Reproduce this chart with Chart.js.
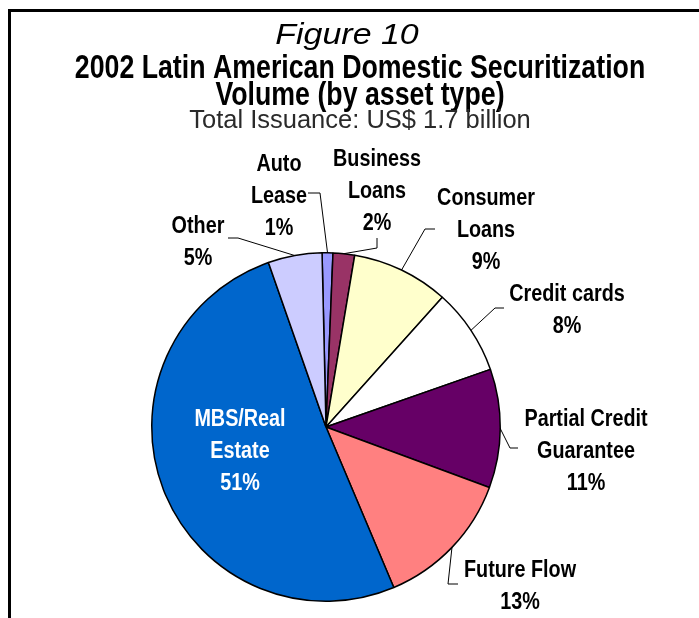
<!DOCTYPE html>
<html>
<head>
<meta charset="utf-8">
<title>2002 Latin American Domestic Securitization Volume</title>
<script src="https://cdn.jsdelivr.net/npm/chart.js@4.4.1/dist/chart.umd.min.js"></script>
<style>
  html, body { margin: 0; padding: 0; background: #fff; }
  #wrap { position: relative; width: 699px; height: 618px; overflow: hidden; }
  #frame {
    position: absolute; left: 8px; top: 9px; width: 720px; height: 640px;
    border-top: 3px solid #000; border-left: 3px solid #000;
  }
  #chart { position: absolute; left: 0; top: 0; }
</style>
</head>
<body>
<div id="wrap">
  <div id="frame"></div>
  <canvas id="chart" width="699" height="618"></canvas>
</div>
<script>
/* =========================================================
   Figure 10 — securitization volume by asset type (pie)
   ========================================================= */

const assetTypes = ['Auto Lease', 'Business Loans', 'Consumer Loans', 'Credit cards',
                    'Partial Credit Guarantee', 'Future Flow', 'MBS/Real Estate', 'Other'];
const sharePct   = [1, 2, 9, 8, 11, 13, 51, 5];
const labelLines = [['Auto', 'Lease'], ['Business', 'Loans'], ['Consumer', 'Loans'], ['Credit cards'],
                    ['Partial Credit', 'Guarantee'], ['Future Flow'], ['MBS/Real', 'Estate'], ['Other']];
const sliceColors = ['#9999ff', '#993366', '#ffffcc', '#ffffff', '#660066', '#ff8080', '#0066cc', '#ccccff'];

const headings = {
  figure: 'Figure 10',
  title: ['2002 Latin American Domestic Securitization', 'Volume (by asset type)'],
  subtitle: 'Total Issuance: US$ 1.7 billion'
};

// where each label sits (centre of first line) and its leader line (tail -> knee -> arc)
const labelLayout = [
  { x: 279, y: 163, tail: [308, 193], knee: [320, 193] },
  { x: 377, y: 158, tail: [377, 238], knee: [377, 248] },
  { x: 486, y: 197, tail: [435, 229], knee: [425, 229] },
  { x: 567, y: 293, tail: [504, 308], knee: [495, 308] },
  { x: 586, y: 418, tail: [518, 448], knee: [510, 448] },
  { x: 520, y: 569, tail: [458, 584], knee: [448, 584] },
  { x: 240, y: 418, color: '#fff' },
  { x: 198, y: 225, tail: [228, 238], knee: [238, 238] }
];

const LINE_H = 32;
const CONDENSE = 0.86;

// draws text centred on x, with y as the cap-height centre, squeezed/stretched by scaleX
function scaledText(ctx, text, x, y, font, size, scaleX) {
  ctx.save();
  ctx.translate(x, y);
  ctx.scale(scaleX, 1);
  ctx.font = `${font} ${size}px "Liberation Sans", Arial, sans-serif`;
  ctx.textAlign = 'center';
  ctx.textBaseline = 'alphabetic';
  ctx.fillText(text, 0, size * 0.36);
  ctx.restore();
}

const headingPlugin = {
  id: 'headings',
  afterDraw(chart) {
    const ctx = chart.ctx;
    ctx.save();
    ctx.fillStyle = '#000';
    scaledText(ctx, headings.figure, 347, 34, 'italic', 29, 1.17);
    scaledText(ctx, headings.title[0], 360, 66, 'bold', 33, 0.81);
    scaledText(ctx, headings.title[1], 360, 93, 'bold', 33, 0.81);
    ctx.fillStyle = '#2a2a2a';
    scaledText(ctx, headings.subtitle, 360, 119, 'normal', 25, 1.02);
    ctx.restore();
  }
};

const sliceLabelPlugin = {
  id: 'sliceLabels',
  afterDatasetsDraw(chart) {
    const ctx = chart.ctx;
    const arcs = chart.getDatasetMeta(0).data;
    ctx.save();
    arcs.forEach((arc, i) => {
      const lay = labelLayout[i];
      const { x, y, startAngle, endAngle, outerRadius } = arc.getProps(['x', 'y', 'startAngle', 'endAngle', 'outerRadius'], true);
      const mid = (startAngle + endAngle) / 2;

      if (lay.tail) {
        const ax = x + Math.cos(mid) * outerRadius;
        const ay = y + Math.sin(mid) * outerRadius;
        ctx.strokeStyle = '#000';
        ctx.lineWidth = 1;
        ctx.beginPath();
        ctx.moveTo(lay.tail[0], lay.tail[1]);
        ctx.lineTo(lay.knee[0], lay.knee[1]);
        ctx.lineTo(ax, ay);
        ctx.stroke();
      }

      ctx.fillStyle = lay.color || '#000';
      const lines = [...labelLines[i], sharePct[i] + '%'];
      lines.forEach((t, k) => scaledText(ctx, t, lay.x, lay.y + k * LINE_H, 'bold', 23, CONDENSE));
    });
    ctx.restore();
  }
};

new Chart(document.getElementById('chart'), {
  type: 'pie',
  data: {
    labels: assetTypes,
    datasets: [{
      data: sharePct,
      backgroundColor: sliceColors,
      borderColor: '#000',
      borderWidth: 1.5
    }]
  },
  options: {
    responsive: false,
    animation: false,
    devicePixelRatio: 1,
    rotation: -1.3,
    layout: { padding: { left: 151, top: 252, right: 198, bottom: 16 } },
    plugins: {
      legend: { display: false },
      tooltip: { enabled: false }
    }
  },
  plugins: [sliceLabelPlugin, headingPlugin]
});
</script>
</body>
</html>
